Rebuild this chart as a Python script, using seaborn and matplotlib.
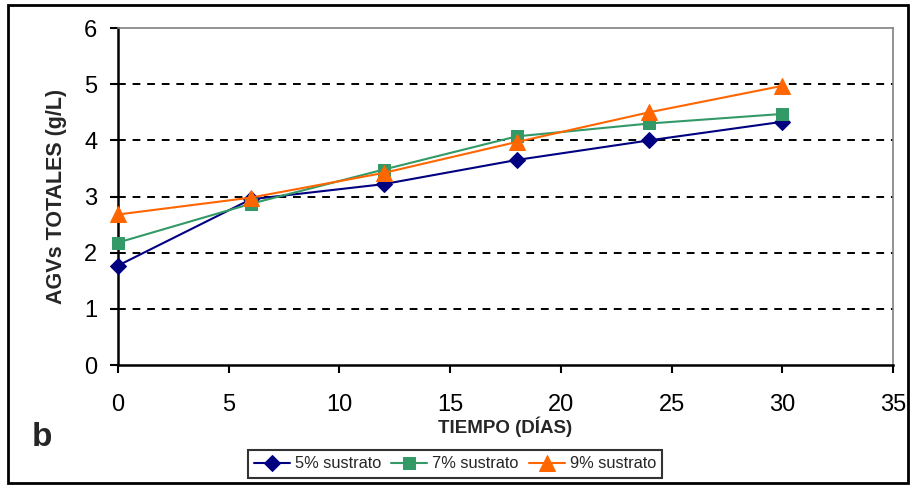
import matplotlib
matplotlib.use("Agg")
import matplotlib.pyplot as plt
import seaborn as sns
import pandas as pd
from matplotlib.patches import Rectangle

sns.set_theme(style="white")
plt.rcParams['font.family'] = ['Liberation Sans', 'DejaVu Sans']

dias = [0, 6, 12, 18, 24, 30]
s5 = [1.77, 2.95, 3.22, 3.65, 4.00, 4.33]
s7 = [2.18, 2.87, 3.48, 4.07, 4.30, 4.47]
s9 = [2.68, 2.98, 3.42, 3.97, 4.50, 4.97]
series_names = ["5% sustrato", "7% sustrato", "9% sustrato"]
colors = ["#000080", "#339966", "#FF6600"]
markers = ["D", "s", "^"]
msizes = [8, 8.5, 11]

fig = plt.figure(figsize=(9.13, 4.88), dpi=100)
ax = fig.add_axes([118/913, 1-365/488, (893-118)/913, (365-28)/488])

for name, vals, c, m, ms in zip(series_names, [s5, s7, s9], colors, markers, msizes):
    df = pd.DataFrame({"x": dias, "y": vals})
    sns.lineplot(data=df, x="x", y="y", ax=ax, color=c, marker=m, markersize=ms,
                 markeredgecolor=c, linewidth=1.5, label=name, zorder=3,
                 clip_on=False)

ax.set_xlim(0, 35)
ax.set_ylim(0, 6)
ax.set_xticks(range(0, 36, 5))
ax.set_yticks(range(0, 7))
for yv in range(1, 6):
    ax.axhline(yv, color="black", linestyle=(0, (4, 3.5)), linewidth=1.4, zorder=1)

for s in ["left", "bottom"]:
    ax.spines[s].set_color("black")
    ax.spines[s].set_linewidth(1.8)
for s in ["right", "top"]:
    ax.spines[s].set_color("#808080")
    ax.spines[s].set_linewidth(1.2)

ax.tick_params(axis="both", which="major", labelsize=17, colors="black",
               length=6, width=1.5, direction="out", left=True, bottom=True)
ax.tick_params(axis="x", pad=15)
ax.tick_params(axis="y", pad=9)
ax.set_xlabel("TIEMPO (DÍAS)", fontsize=13.5, fontweight="bold", labelpad=0)
ax.set_ylabel("AGVs TOTALES (g/L)", fontsize=15.5, fontweight="bold", labelpad=12)

leg = ax.legend(loc="center", bbox_to_anchor=(455/913, 1-464/488),
                bbox_transform=fig.transFigure, ncol=3, frameon=True,
                fancybox=False, edgecolor="black", fontsize=11.8,
                handlelength=2.2, handletextpad=0.3, columnspacing=0.6,
                borderpad=0.4)
leg.get_frame().set_linewidth(1.5)

fig.text(42/913, 1-438/488, "b", fontsize=24, fontweight="bold",
         ha="center", va="center")

fig.patches.append(Rectangle((8/913, 1-483/488), 900/913, 478/488,
                             transform=fig.transFigure, fill=False,
                             edgecolor="black", linewidth=2))

fig.savefig("out.png", dpi=100)
